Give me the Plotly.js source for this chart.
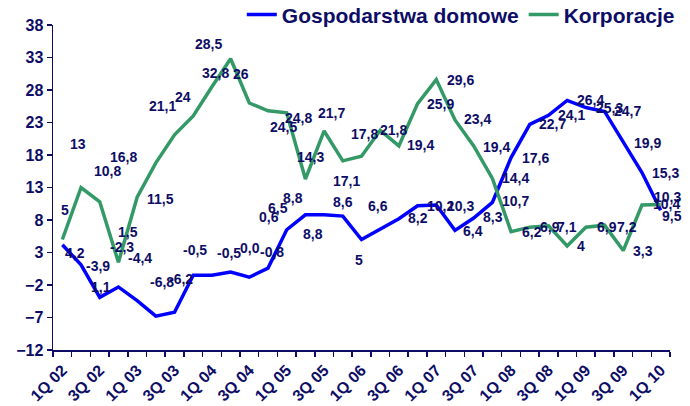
<!DOCTYPE html>
<html>
<head>
<meta charset="utf-8">
<script src="https://cdn.plot.ly/plotly-3.0.1.min.js"></script>
<style>html,body{margin:0;padding:0;background:#fff;}#chart{width:690px;height:406px;}</style>
</head>
<body>
<div id="chart"></div>
<script>
// ---- data ----
const quarters = ["1Q 02","2Q 02","3Q 02","4Q 02","1Q 03","2Q 03","3Q 03","4Q 03",
  "1Q 04","2Q 04","3Q 04","4Q 04","1Q 05","2Q 05","3Q 05","4Q 05",
  "1Q 06","2Q 06","3Q 06","4Q 06","1Q 07","2Q 07","3Q 07","4Q 07",
  "1Q 08","2Q 08","3Q 08","4Q 08","1Q 09","2Q 09","3Q 09","4Q 09","1Q 10"];
const tickLabels = ["1Q 02","3Q 02","1Q 03","3Q 03","1Q 04","3Q 04","1Q 05","3Q 05",
  "1Q 06","3Q 06","1Q 07","3Q 07","1Q 08","3Q 08","1Q 09","3Q 09","1Q 10"];
const households = [4.2,1.1,-3.9,-2.3,-4.4,-6.8,-6.2,-0.5,-0.5,0.0,-0.8,0.6,6.5,8.8,8.8,8.6,
  5,6.6,8.2,10.2,10.3,6.4,8.3,10.7,17.6,22.7,24.1,26.4,25.3,24.7,19.9,15.3,9.5];
const corporations = [5,13,10.8,1.5,11.5,16.8,21.1,24,28.5,32.8,26,24.8,24.5,14.3,21.7,17.1,
  17.8,21.8,19.4,25.9,29.6,23.4,19.4,14.4,6.2,6.9,7.1,4,6.9,7.2,3.3,10.3,10.4];
const seriesNames = ["Gospodarstwa domowe","Korporacje"];
const yTicks = [-12,-7,-2,3,8,13,18,23,28,33,38];

// ---- label offsets (pixels, style only) ----
const blueShift = [[13,8],[20,22],[-2,-31],[4,-40],[3,-43],[6,-34],[6,-33],[2,-25],[17,-22],[19,-24],
  [23,-25],[1,-51],[-9,-22],[-12,-17],[-11,19],[0,-14],[-3,20],[-2,-23],[19,-1],[23,0],[24,1],
  [18,1],[19,-1],[23,-1],[24,0],[23,0],[23,0],[23,0],[24,0],[23,0],[24,0],[24,0],[11,6]];
const greenShift = [[3,-30],[-3,-44],[8,-31],[10,-30],[23,2],[-32,-6],[-12,-29],[-10,-19],[-3,-43],[-15,14],
  [-8,-29],[30,7],[-3,14],[5,-22],[7,-18],[4,20],[3,-22],[13,0],[22,-1],[23,0],[24,0],
  [23,-1],[23,1],[23,0],[21,0],[20,0],[19,1],[14,0],[21,0],[22,2],[20,0],[26,-8],[6,0]];

const navy = "#0d0d66";
const xIdx = quarters.map((q,i)=>i);
const fmt = v => (v === 0 ? "0,0" : String(v).replace(".", ","));

const traces = [
  {x:xIdx, y:households, name:seriesNames[0], type:"scatter", mode:"lines",
   line:{color:"#0000ff", width:3.5}, hoverinfo:"skip"},
  {x:xIdx, y:corporations, name:seriesNames[1], type:"scatter", mode:"lines",
   line:{color:"#339966", width:3.5}, hoverinfo:"skip"}
];

const annotations = [];
function addLabels(vals, shifts){
  vals.forEach((v,i)=>{
    annotations.push({x:i, y:v, text:fmt(v), showarrow:false,
      xshift:shifts[i][0], yshift:-shifts[i][1],
      xanchor:"center", yanchor:"middle",
      font:{family:"Liberation Sans, Arial, sans-serif", size:14, color:navy, weight:"bold"}});
  });
}
addLabels(households, blueShift);
addLabels(corporations, greenShift);

const tickPos = tickLabels.map(t=>quarters.indexOf(t));
const boundaries = quarters.map((q,i)=>i-0.5).concat([quarters.length-0.5]);

const layout = {
  width:690, height:406,
  margin:{l:53, r:20, t:25, b:56, autoexpand:false},
  paper_bgcolor:"#fff", plot_bgcolor:"#fff",
  font:{family:"Liberation Sans, Arial, sans-serif", color:navy, weight:"bold"},
  showlegend:true,
  legend:{orientation:"h", x:0.306, xanchor:"left", y:1.031, yanchor:"middle",
    font:{size:21, color:navy, weight:"bold"}, bgcolor:"rgba(0,0,0,0)",
    itemwidth:30, tracegroupgap:0},
  xaxis:{range:[-0.5, quarters.length-0.5], tickmode:"array", tickvals:tickPos, ticktext:tickLabels,
    ticks:"", tickangle:-45, tickfont:{size:16, color:navy, weight:"bold"}, ticklabelstandoff:3,
    showgrid:false, zeroline:false, showline:true, linecolor:navy, linewidth:1.5,
    minor:{tickmode:"array", tickvals:boundaries, ticks:"outside", ticklen:5, tickcolor:navy, tickwidth:1.5, showgrid:false},
    fixedrange:true},
  yaxis:{range:[-12,38], tickmode:"array", tickvals:yTicks, ticks:"outside", ticklen:5,
    tickcolor:navy, tickwidth:1.5, tickfont:{size:16, color:navy, weight:"bold"},
    showgrid:false, zeroline:false, showline:true, linecolor:navy, linewidth:1.5, fixedrange:true},
  annotations:annotations
};

Plotly.newPlot("chart", traces, layout, {displayModeBar:false, staticPlot:true});
</script>
</body>
</html>
